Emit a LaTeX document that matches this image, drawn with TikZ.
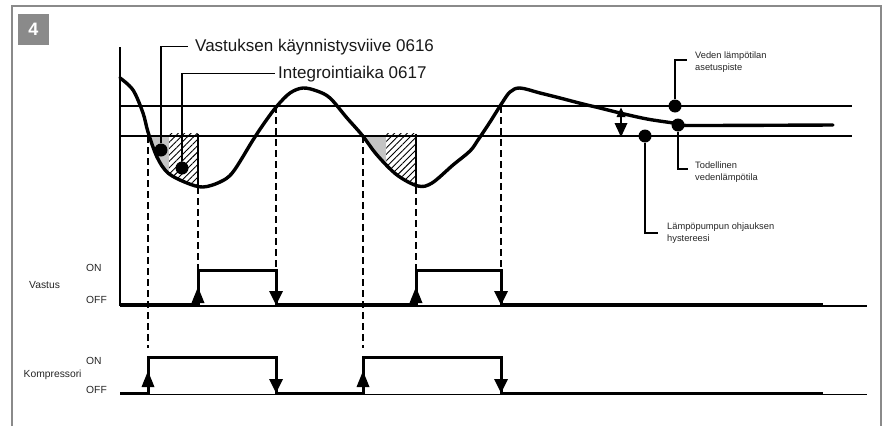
\documentclass[tikz,border=0pt]{standalone}
\usepackage{fontspec}
\setmainfont{Liberation Sans}
\usetikzlibrary{patterns.meta}
\definecolor{framegray}{HTML}{8A8A8A}
\definecolor{fillgray}{HTML}{C4C4C4}
\tikzset{
  refline/.style={line width=1.2pt},
  curveline/.style={line width=3.4pt, line cap=round, line join=round},
  sigline/.style={line width=3pt, line join=miter},
  thinline/.style={line width=1.1pt},
  dashline/.style={line width=1.3pt, dash pattern=on 7pt off 4pt},
  leader/.style={line width=1.5pt},
  dotnode/.style={circle, fill=black, inner sep=0pt, minimum size=13pt},
  biglabel/.style={font=\fontsize{17}{20}\selectfont, inner sep=0pt, anchor=base west, text=black!90},
  smalllabel/.style={font=\fontsize{9.3}{12.5}\selectfont, inner sep=0pt, anchor=north west, align=left, text=black!85},
  siglabel/.style={font=\fontsize{10.3}{12}\selectfont, inner sep=0pt, anchor=base west, text=black!85},
  hatch/.style={pattern={Lines[angle=45,distance=4.5pt,line width=0.9pt]}},
  uparr/.pic={\fill (-6.5,0) -- (6.5,0) -- (0,-16) -- cycle;},
  downarr/.pic={\fill (-7,0) -- (7,0) -- (0,14) -- cycle;}
}
\begin{document}
\begin{tikzpicture}[x=1pt,y=-1pt]
\useasboundingbox (0,0) rectangle (891,426);
\fill[white] (0,0) rectangle (891,426);
% frame
\draw[framegray, line width=1.5pt] (12,426) -- (12,6) -- (881,6) -- (881,426);
\node[fill=framegray, minimum size=31pt, inner sep=0pt, text=white, font=\fontsize{18}{20}\selectfont\bfseries] (num) at (33.5,29.5) {4};

% shaded areas
\begin{scope}
\clip plot[smooth, tension=0.55] coordinates {(120,78) (133,90) (143,113) (148,132) (157,157) (168,173) (187,183) (203,187) (220,182) (233,172) (253,140) (265,122) (277,106) (290,93) (303,88) (317,91) (330,98) (347,118) (362,135) (377,155) (397,175) (418,186) (432,183) (453,165) (470,151) (478,140) (490,122) (502,103) (510,92) (520,88) (540,93) (560,98) (583,104) (600,108) (620,113) (647,119) (673,123) (682,125) (700,125.5) (833,125)} -- (833,0) -- (120,0) -- cycle;
\fill[fillgray] (146,136) rectangle (169,200);
\fill[hatch] (169,133.5) rectangle (198,200);
\fill[fillgray] (358,136) rectangle (386,200);
\fill[hatch] (386,133.5) rectangle (416,200);
\end{scope}
\draw[thinline] (198,133.5) -- (198,187);
\draw[thinline] (416,133.5) -- (416,187);

% reference lines and axis
\draw[refline] (120,106) -- (852,106);
\draw[refline] (120,136) -- (852,136);
\draw[line width=1.5pt] (120,47) -- (120,306);

% curve
\draw[curveline] plot[smooth, tension=0.55] coordinates {(120,78) (133,90) (143,113) (148,132) (157,157) (168,173) (187,183) (203,187) (220,182) (233,172) (253,140) (265,122) (277,106) (290,93) (303,88) (317,91) (330,98) (347,118) (362,135) (377,155) (397,175) (418,186) (432,183) (453,165) (470,151) (478,140) (490,122) (502,103) (510,92) (520,88) (540,93) (560,98) (583,104) (600,108) (620,113) (647,119) (673,123) (682,125) (700,125.5) (833,125)};

% dashed lines
\draw[dashline] (148,136) -- (148,348);
\draw[dashline] (198,187) -- (198,270);
\draw[dashline] (276,106) -- (276,270);
\draw[dashline] (363,136) -- (363,348);
\draw[dashline] (416,187) -- (416,270);
\draw[dashline] (501,106) -- (501,270);

% hysteresis arrow
\draw[line width=1.2pt] (621,116) -- (621,124);
\fill (616.5,117) -- (625.5,117) -- (621,107.5) -- cycle;
\fill (614.5,123) -- (627.5,123) -- (621,137) -- cycle;

% signals
\draw[thinline] (120,306) -- (867,306);
\draw[thinline] (120,394.5) -- (867,394.5);
\draw[sigline] (120,304.5) -- (198,304.5) -- (198,270) -- (276,270) -- (276,304.5) -- (416,304.5) -- (416,270) -- (501,270) -- (501,304.5) -- (823,304.5);
\draw[sigline] (120,393) -- (148,393) -- (148,357) -- (276,357) -- (276,393) -- (363,393) -- (363,357) -- (501,357) -- (501,393) -- (823,393);
\pic at (198,303) {uparr};
\pic at (416,303) {uparr};
\pic at (276,291) {downarr};
\pic at (501,291) {downarr};
\pic at (148,387) {uparr};
\pic at (363,387) {uparr};
\pic at (276,379) {downarr};
\pic at (501,379) {downarr};

% signal labels
\node[siglabel] (onA) at (86,271.7) {ON};
\node[siglabel] (vastus) at (29,288.3) {Vastus};
\node[siglabel] (offA) at (86,303.3) {OFF};
\node[siglabel] (onB) at (86,364) {ON};
\node[siglabel] (komp) at (23.5,377.7) {Kompressori};
\node[siglabel] (offB) at (86,393.3) {OFF};

% labels and dots
\node[biglabel] (lblA) at (195,51) {Vastuksen käynnistysviive 0616};
\node[biglabel] (lblB) at (278,78) {Integrointiaika 0617};
\node[smalllabel] (lblV) at (695,51.5) {Veden lämpötilan\\asetuspiste};
\node[smalllabel] (lblT) at (695,161.5) {Todellinen\\vedenlämpötila};
\node[smalllabel] (lblL) at (667,222.5) {Lämpöpumpun ohjauksen\\hystereesi};

\node[dotnode] (dotA) at (161,150) {};
\node[dotnode] (dotB) at (182,168) {};
\node[dotnode] (dotV) at (675,106) {};
\node[dotnode] (dotT) at (678,125) {};
\node[dotnode] (dotL) at (645,136) {};

\draw[leader] (dotA) |- ([xshift=-7pt]lblA.west);
\draw[leader] (dotB) |- ([xshift=-3pt]lblB.west);
\draw[leader] (dotV) |- ([xshift=-8pt,yshift=-8.5pt]lblV.north west);
\draw[leader] (dotT) |- ([xshift=-7pt,yshift=-7.5pt]lblT.north west);
\draw[leader] (dotL) |- ([xshift=-9pt,yshift=-10.5pt]lblL.north west);
\end{tikzpicture}
\end{document}
